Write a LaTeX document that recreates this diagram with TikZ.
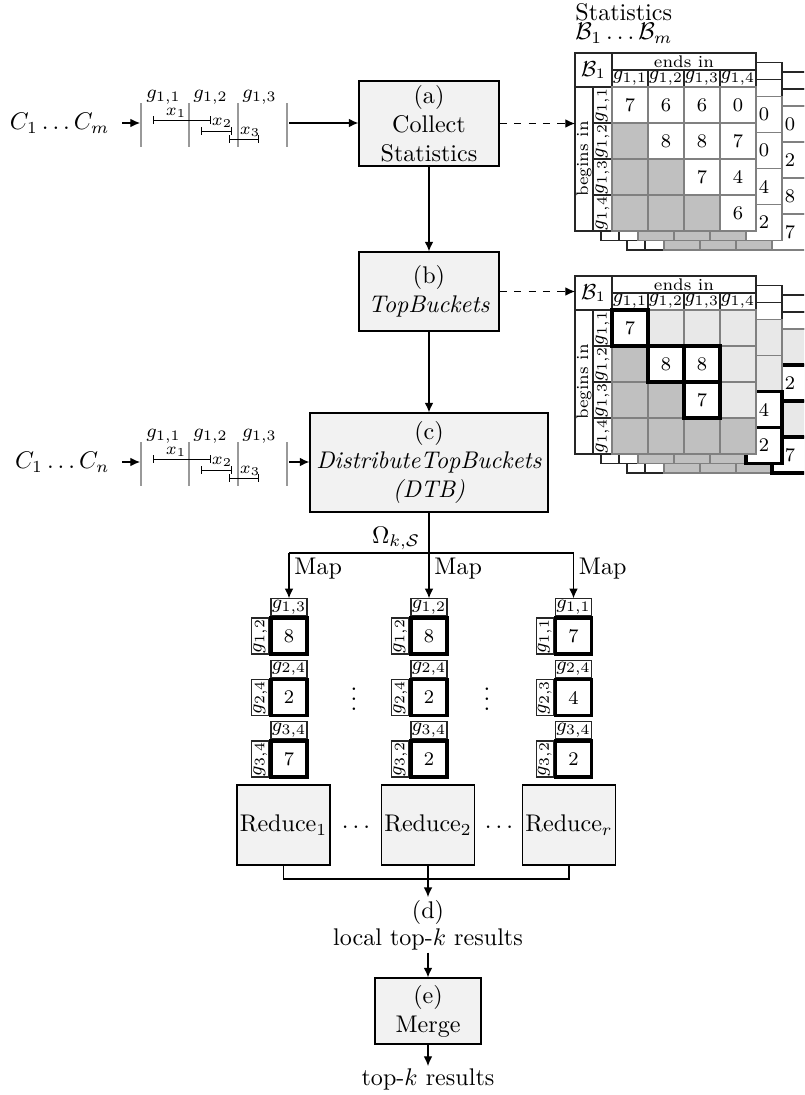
\documentclass[tikz,border=0pt]{standalone}
\usetikzlibrary{arrows.meta,calc}
\definecolor{boxfill}{RGB}{242,242,242}
\definecolor{cellgrey}{RGB}{192,192,192}
\definecolor{celllight}{RGB}{232,232,232}

% one layer of a bucket table: #1,#2 = top-left corner, #3 = 1 (statistics) or 2 (top buckets)
\newcommand\bucketlayer[3]{%
  \draw[hcell] (#1,#2) rectangle ++(37,34);
  \draw[hcell] (#1+37,#2) rectangle ++(144,17);
  \foreach \j in {0,...,3}{\draw[hcell] (#1+37+36*\j,#2+17) rectangle ++(36,17);}
  \draw[hcell] (#1,#2+34) rectangle ++(18,144);
  \foreach \i in {0,...,3}{\draw[hcell] (#1+18,#2+34+36*\i) rectangle ++(19,36);}
  \foreach \i in {0,...,3}{\foreach \j in {0,...,3}{%
    \ifnum\j<\i\relax\def\cf{cellgrey}\else\ifnum#3=1\relax\def\cf{white}\else\def\cf{celllight}\fi\fi
    \draw[bcell,fill=\cf] (#1+37+36*\j,#2+34+36*\i) rectangle ++(36,36);}}%
}
% a chosen bucket (thick frame): corner, row, column
\newcommand\pickcell[4]{\draw[pick] (#1+37+36*#4,#2+34+36*#3) rectangle ++(36,36);}
% an excluded bucket (grey): corner, row, column
\newcommand\greycell[4]{\draw[bcell,fill=cellgrey] (#1+37+36*#4,#2+34+36*#3) rectangle ++(36,36);}
% a count: corner, row, column, value, node name
\newcommand\cellval[6]{\node[num] (#6) at (#1+55+36*#4,#2+52+36*#3) {#5};}
% header texts of the front layer: corner, name prefix
\newcommand\bucketlabels[3]{%
  \node[font=\small,inner sep=0pt] (#3-B) at (#1+18.5,#2+17) {$\mathcal{B}_1$};
  \node[lbl] (#3-ends) at (#1+109,#2+8.5) {ends in};
  \foreach \j/\jj in {0/1,1/2,2/3,3/4}{\node[glbl] (#3-c\jj) at (#1+55+36*\j,#2+25.5) {$g_{1,\jj}$};}
  \node[lbl,rotate=90] (#3-begins) at (#1+9,#2+106) {begins in};
  \foreach \i/\ii in {0/1,1/2,2/3,3/4}{\node[glbl,rotate=90] (#3-r\ii) at (#1+27.5,#2+52+36*\i) {$g_{1,\ii}$};}
  \coordinate (#3-left) at (#1,#2+106);
}
% one bucket handed to a reducer: name, centre x, top y, column group, row group, count
\newcommand\minibucket[6]{%
  \node[mini] (#1) at (#2,#3+18) {#6};
  \node[minihead,anchor=south] (#1-h) at (#1.north) {$g_{#4}$};
  \node[minihead,anchor=south,rotate=90] (#1-s) at (#1.west) {$g_{#5}$};
}

\begin{document}
\begin{tikzpicture}[x=0.415pt,y=-0.415pt,
  conn/.style={line width=0.5pt,-{Latex[length=4pt,width=3.6pt]}},
  wire/.style={line width=0.5pt},
  proc/.style={draw,fill=boxfill,line width=0.5pt,align=center,inner sep=0pt},
  boxsize/.style 2 args={minimum width=#1*0.415pt,minimum height=#2*0.415pt},
  hcell/.style={draw=black!85,fill=white,line width=0.45pt},
  bcell/.style={draw=black!50,line width=0.45pt},
  pick/.style={draw=black,fill=white,line width=1.4pt},
  lbl/.style={font=\scriptsize,inner sep=0pt},
  glbl/.style={font=\footnotesize,inner sep=0pt},
  num/.style={font=\footnotesize,inner sep=0pt},
  sepline/.style={draw=black!40,line width=0.8pt},
  span/.style={line width=0.4pt,{Bar[width=3pt]}-{Bar[width=3pt]}},
  mini/.style={draw,line width=1.4pt,fill=white,minimum size=36*0.415pt,inner sep=0pt,font=\footnotesize},
  minihead/.style={draw=black!85,line width=0.45pt,fill=white,minimum width=36*0.415pt,minimum height=17*0.415pt,inner sep=0pt,font=\footnotesize},
  ]
\useasboundingbox (0,0) rectangle (804,1095);
\clip (0,0) rectangle (804,1095);

% ---------- input rows with their intervals ----------
\foreach \r/\dy/\idx in {1/0/m,2/339/n}{
  \node[anchor=east,inner sep=0pt] (C\r) at (110,123+\dy) {$C_1\ldots C_\idx$};
  \coordinate (L\r) at (140,123+\dy);
  \coordinate (R\r) at (289,123+\dy);
  \draw[conn,shorten <=5pt] (C\r) -- (L\r);
  \foreach \x in {141,189,238,287}{\draw[sepline] (\x,103+\dy) -- (\x,147+\dy);}
  \node[anchor=west,inner sep=0pt,font=\footnotesize] (g\r-1) at (146,97+\dy) {$g_{1,1}$};
  \node[anchor=west,inner sep=0pt,font=\footnotesize] (g\r-2) at (193,97+\dy) {$g_{1,2}$};
  \node[anchor=west,inner sep=0pt,font=\footnotesize] (g\r-3) at (242,97+\dy) {$g_{1,3}$};
  \draw[span] (153,120+\dy) -- (211,120+\dy);
  \draw[span] (201,131+\dy) -- (232,131+\dy);
  \draw[span] (229,139+\dy) -- (259,139+\dy);
  \node[lbl] (x\r-1) at (176,113+\dy) {$x_1$};
  \node[lbl] (x\r-2) at (222,123+\dy) {$x_2$};
  \node[lbl] (x\r-3) at (250,132+\dy) {$x_3$};
}

% ---------- processing steps ----------
\node[proc,boxsize={140}{85}] (a) at (429,123.5) {(a)\\Collect\\Statistics};
\node[proc,boxsize={140}{79}] (b) at (429,291.5) {(b)\\\textit{TopBuckets}};
\node[proc,boxsize={238}{99}] (c) at (429,462.5) {(c)\\\textit{DistributeTopBuckets}\\\textit{(DTB)}};
\draw[conn] (R1) -- (R1 -| a.west);
\draw[conn] (R2) -- (R2 -| c.west);
\draw[conn] (a) -- (b);
\draw[conn] (b) -- (c);

% ---------- statistics tables B_1 ... B_m ----------
\node[anchor=north west,align=left,inner sep=0pt] (stat) at (575,3) {Statistics\\[-4pt]$\mathcal{B}_1\ldots\mathcal{B}_m$};
\bucketlayer{627}{72}{1}
\cellval{627}{72}{0}{3}{0}{st2-0}
\cellval{627}{72}{1}{3}{2}{st2-1}
\cellval{627}{72}{2}{3}{8}{st2-2}
\cellval{627}{72}{3}{3}{7}{st2-3}
\bucketlayer{601}{62.5}{1}
\cellval{601}{62.5}{0}{3}{0}{st1-0}
\cellval{601}{62.5}{1}{3}{0}{st1-1}
\cellval{601}{62.5}{2}{3}{4}{st1-2}
\cellval{601}{62.5}{3}{3}{2}{st1-3}
\bucketlayer{575}{53}{1}
\cellval{575}{53}{0}{0}{7}{st-00}
\cellval{575}{53}{0}{1}{6}{st-01}
\cellval{575}{53}{0}{2}{6}{st-02}
\cellval{575}{53}{0}{3}{0}{st-03}
\cellval{575}{53}{1}{1}{8}{st-11}
\cellval{575}{53}{1}{2}{8}{st-12}
\cellval{575}{53}{1}{3}{7}{st-13}
\cellval{575}{53}{2}{2}{7}{st-22}
\cellval{575}{53}{2}{3}{4}{st-23}
\cellval{575}{53}{3}{3}{6}{st-33}
\bucketlabels{575}{53}{st}

% ---------- top buckets tables ----------
\bucketlayer{627}{295}{2}
\pickcell{627}{295}{1}{3}
\pickcell{627}{295}{3}{3}
\cellval{627}{295}{1}{3}{2}{tb2-1}
\cellval{627}{295}{3}{3}{7}{tb2-3}
\bucketlayer{601}{285.5}{2}
\pickcell{601}{285.5}{2}{3}
\pickcell{601}{285.5}{3}{3}
\cellval{601}{285.5}{2}{3}{4}{tb1-2}
\cellval{601}{285.5}{3}{3}{2}{tb1-3}
\bucketlayer{575}{276}{2}
\greycell{575}{276}{3}{3}
\pickcell{575}{276}{0}{0}
\pickcell{575}{276}{1}{1}
\pickcell{575}{276}{1}{2}
\pickcell{575}{276}{2}{2}
\cellval{575}{276}{0}{0}{7}{tb-00}
\cellval{575}{276}{1}{1}{8}{tb-11}
\cellval{575}{276}{1}{2}{8}{tb-12}
\cellval{575}{276}{2}{2}{7}{tb-22}
\bucketlabels{575}{276}{tb}

\draw[conn,dashed] (a.east) -- (a.east -| st-left);
\draw[conn,dashed] (b.east) -- (b.east -| tb-left);

% ---------- map phase ----------
\coordinate (split) at (429,553);
\coordinate (mapL) at (289,553);
\coordinate (mapR) at (573.5,553);
\draw[wire] (c) -- (split);
\draw[wire] (mapL) -- (mapR);
\node[anchor=south east,inner xsep=3.5pt,inner ysep=1pt] (omega) at (split) {$\Omega_{k,\mathcal{S}}$};

\minibucket{m1a}{289}{618}{1,3}{1,2}{8}
\minibucket{m1b}{289}{679.5}{2,4}{2,4}{2}
\minibucket{m1c}{289}{741}{3,4}{3,4}{7}
\minibucket{m2a}{429}{618}{1,2}{1,2}{8}
\minibucket{m2b}{429}{679.5}{2,4}{2,4}{2}
\minibucket{m2c}{429}{741}{3,4}{3,2}{2}
\minibucket{m3a}{573.5}{618}{1,1}{1,1}{7}
\minibucket{m3b}{573.5}{679.5}{2,4}{2,3}{4}
\minibucket{m3c}{573.5}{741}{3,4}{3,2}{2}

\draw[conn] (mapL) -- node[pos=0.35,anchor=west,inner sep=2pt] (map1) {Map} (m1a-h);
\draw[conn] (split) -- node[pos=0.35,anchor=west,inner sep=2pt] (map2) {Map} (m2a-h);
\draw[conn] (mapR) -- node[pos=0.35,anchor=west,inner sep=2pt] (map3) {Map} (m3a-h);

\node[inner sep=0pt] (vd1) at (354,692) {$\vdots$};
\node[inner sep=0pt] (vd2) at (487,692) {$\vdots$};

% ---------- reduce phase ----------
\node[proc,boxsize={93}{80}] (red1) at (283.5,825) {Reduce$_1$};
\node[proc,boxsize={93}{80}] (red2) at (428,825) {Reduce$_2$};
\node[proc,boxsize={93}{80}] (red3) at (569,825) {Reduce$_r$};
\node (hd1) at (356,827) {$\ldots$};
\node (hd2) at (499,827) {$\ldots$};
\coordinate (join) at (428,879);
\draw[wire] (red1.south) |- (join) -| (red3.south);
\draw[wire] (red2) -- (join);

\node[inner sep=1pt] (d) at (428,912) {(d)};
\draw[conn] (join) -- (d);
\node[inner sep=1pt] (loc) at (428,939) {local top-$k$ results};
\node[proc,boxsize={106}{66}] (merge) at (428,1011) {(e)\\Merge};
\draw[conn] (loc) -- (merge);
\node[anchor=north,inner sep=1pt] (res) at (428,1066) {top-$k$ results};
\draw[conn] (merge) -- (res);
\end{tikzpicture}
\end{document}
